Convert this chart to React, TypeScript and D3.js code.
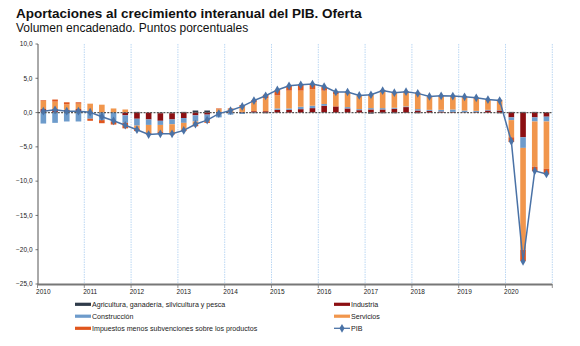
import React from "react";
import * as d3 from "d3";

const years = ["2010", "2011", "2012", "2013", "2014", "2015", "2016", "2017", "2018", "2019", "2020"];
const quarterNames = ["T1", "T2", "T3", "T4"];
const periods = years.flatMap((y) => quarterNames.map((q) => `${y}${q}`));

const agricultura = [
  0.1, 0.1, 0.1, 0.2, 0.0, 0.05, 0.05, 0.05, 0.1, 0.0, -0.1, -0.1, 0.1, 0.3, 0.3, 0.1,
  0.0, 0.0, 0.0, -0.1, 0.0, 0.0, 0.0, 0.05, 0.05, 0.0, 0.0, 0.0, -0.15, -0.1, -0.1, -0.05,
  -0.1, 0.0, 0.0, 0.0, 0.0, 0.0, 0.0, -0.1, 0.1, 0.1, 0.1, 0.05,
];
const industria = [
  0.4, 0.4, 0.3, 0.3, 0.1, 0.0, 0.0, -0.4, -0.9, -1.0, -1.1, -0.9, -0.8, -0.4, -0.3, 0.0,
  0.1, 0.1, 0.2, 0.2, 0.4, 0.4, 0.5, 0.6, 0.95, 0.9, 0.6, 0.35, 0.45, 0.45, 0.55, 0.8,
  0.3, 0.25, 0.15, 0.1, 0.05, 0.1, 0.3, 0.3, -0.7, -3.6, -0.7, -0.6,
];
const construccion = [
  -1.6, -1.5, -1.3, -1.3, -0.9, -1.1, -1.3, -1.1, -1.0, -0.8, -0.6, -0.7, -0.7, -0.9, -0.8, -0.7,
  -0.3, -0.2, -0.1, 0.0, 0.2, 0.2, 0.35, 0.35, 0.25, 0.0, 0.2, 0.15, 0.2, 0.2, 0.15, 0.1,
  0.2, 0.15, 0.25, 0.35, 0.25, 0.15, 0.1, 0.05, -0.4, -1.55, -0.6, -0.7,
];
const servicios = [
  1.2, 1.1, 0.8, 0.8, 1.2, 1.1, 0.55, 0.4, -0.5, -1.2, -1.0, -1.3, -1.0, -0.5, -0.2, 0.4,
  0.4, 0.8, 1.3, 1.9, 1.9, 2.6, 2.35, 2.4, 1.95, 1.8, 2.1, 1.95, 2.05, 2.5, 2.2, 2.2,
  2.3, 1.8, 1.95, 1.85, 1.9, 1.75, 1.5, 1.45, -2.5, -14.85, -6.6, -6.9,
];
const impuestos = [
  0.1, 0.3, 0.3, 0.2, -0.3, -0.45, -0.45, -0.8, -0.3, -0.2, -0.3, -0.2, -0.2, -0.2, -0.2, 0.1,
  0.1, 0.2, 0.3, 0.5, 0.8, 0.7, 0.9, 0.75, 0.55, 0.3, 0.1, 0.0, 0.0, 0.15, 0.1, 0.0,
  0.1, 0.1, 0.1, 0.1, 0.1, 0.1, 0.0, 0.05, -0.7, -1.65, -0.65, -0.8,
];
const pib = [
  0.2, 0.4, 0.2, 0.2, 0.05, -0.6, -1.2, -1.85, -2.5, -3.2, -3.1, -3.1, -2.6, -1.7, -1.1, -0.15,
  0.3, 0.9, 1.75, 2.45, 3.3, 3.9, 4.05, 4.15, 3.8, 3.0, 3.0, 2.5, 2.6, 3.2, 2.9, 3.05,
  2.8, 2.35, 2.45, 2.4, 2.3, 2.15, 1.9, 1.75, -4.2, -21.7, -8.5, -8.95,
];

const seriesKeys = ["agricultura", "industria", "construccion", "servicios", "impuestos"];
const seriesNames = [
  "Agricultura, ganadería, silvicultura y pesca",
  "Industria",
  "Construcción",
  "Servicios",
  "Impuestos menos subvenciones sobre los productos",
];
const seriesColors = ["#2f3b4a", "#8c0f12", "#6d9bcb", "#f1964c", "#e0561d"];
const pibName = "PIB";
const pibColor = "#4a72a6";
const yTicks = [10, 5, 0, -5, -10, -15, -20, -25];

const title = "Aportaciones al crecimiento interanual del PIB. Oferta";
const subtitle = "Volumen encadenado. Puntos porcentuales";

const W = 580;
const H = 346;
const FONT = "'Liberation Sans', Arial, sans-serif";

export default function App() {
  const values = [agricultura, industria, construccion, servicios, impuestos];
  const rows = periods.map((p, i) => {
    const r: any = { period: p };
    seriesKeys.forEach((k, j) => (r[k] = values[j][i]));
    return r;
  });
  const stacked = d3.stack<any>().keys(seriesKeys).offset(d3.stackOffsetDiverging)(rows);

  const x = d3.scaleBand<string>().domain(periods).range([37.5, 552.3]).paddingInner(0.52).paddingOuter(0.26);
  const y = d3.scaleLinear().domain([-25, 10]).range([284, 44]);
  const fmt = d3.formatLocale({ decimal: ",", thousands: ".", grouping: [3], currency: ["", "€"] }).format(".1f");
  const step = x.step();
  const x0 = x.range()[0];
  const yearStarts = years.map((_, i) => x0 + step * 4 * i);
  const lineGen = d3
    .line<number>()
    .x((_, i) => (x(periods[i]) as number) + x.bandwidth() / 2)
    .y((d) => y(d));
  const diamond = d3.symbol().type(d3.symbolDiamond).size(22)() as string;

  const legendItems = [
    { name: seriesNames[0], color: seriesColors[0], col: 0, row: 0 },
    { name: seriesNames[2], color: seriesColors[2], col: 0, row: 1 },
    { name: seriesNames[4], color: seriesColors[4], col: 0, row: 2 },
    { name: seriesNames[1], color: seriesColors[1], col: 1, row: 0 },
    { name: seriesNames[3], color: seriesColors[3], col: 1, row: 1 },
  ];
  const legendX = [75, 334];
  const legendY = [304.3, 316.2, 328.3];

  return (
    <svg width={W} height={H} style={{ position: "absolute", left: 0, top: 0, background: "#fff" }} fontFamily={FONT}>
      <text x={16} y={18} fontSize={13.5} fontWeight="bold" fill="#111">{title}</text>
      <text x={16} y={32} fontSize={12} fill="#111">{subtitle}</text>

      {/* vertical year gridlines */}
      {yearStarts.slice(1).concat([x.range()[1]]).map((gx, i) => (
        <line key={`g${i}`} x1={gx} x2={gx} y1={44} y2={284} stroke="#a9cdf0" strokeWidth={0.8} strokeDasharray="1.5,1" />
      ))}

      {/* bars */}
      {stacked.map((s, si) => (
        <g key={s.key} fill={seriesColors[si]}>
          {s.map((d, i) => {
            const y1 = y(Math.max(d[0], d[1]));
            const y2 = y(Math.min(d[0], d[1]));
            if (y2 - y1 <= 0) return null;
            return <rect key={i} x={x(periods[i])} width={x.bandwidth()} y={y1} height={y2 - y1} />;
          })}
        </g>
      ))}

      {/* zero line */}
      <line x1={38} x2={552.3} y1={y(0)} y2={y(0)} stroke="#555" strokeWidth={1.2} strokeDasharray="2,1.3" />

      {/* y axis */}
      <line x1={38} x2={38} y1={44} y2={284} stroke="#555" strokeWidth={1} />
      {yTicks.map((t) => (
        <g key={t}>
          <line x1={35.5} x2={38} y1={y(t)} y2={y(t)} stroke="#555" strokeWidth={0.8} />
          <text x={32.5} y={y(t)} dy="0.35em" textAnchor="end" fontSize={6.5} fill="#222">{fmt(t)}</text>
        </g>
      ))}

      {/* x axis */}
      <line x1={37.5} x2={552.3} y1={284.5} y2={284.5} stroke="#777" strokeWidth={1.8} />
      {yearStarts.concat([x.range()[1]]).map((gx, i) => (
        <line key={`t${i}`} x1={gx} x2={gx} y1={284} y2={288} stroke="#777" strokeWidth={0.8} />
      ))}
      {years.map((yr, i) => (
        <text key={yr} x={(x(periods[i * 4]) as number) + x.bandwidth() / 2} y={294} textAnchor="middle" fontSize={6.5} fill="#222">{yr}</text>
      ))}

      {/* PIB line */}
      <path d={lineGen(pib) as string} fill="none" stroke={pibColor} strokeWidth={1.5} />
      {pib.map((v, i) => (
        <path key={i} d={diamond} transform={`translate(${(x(periods[i]) as number) + x.bandwidth() / 2},${y(v)})`} fill={pibColor} />
      ))}

      {/* legend */}
      {legendItems.map((it) => (
        <g key={it.name}>
          <rect x={legendX[it.col]} y={legendY[it.row] - 1.6} width={16} height={3.2} fill={it.color} />
          <text x={legendX[it.col] + 17} y={legendY[it.row]} dy="0.35em" fontSize={7.1} fill="#222">{it.name}</text>
        </g>
      ))}
      <g>
        <line x1={legendX[1]} x2={legendX[1] + 16} y1={legendY[2]} y2={legendY[2]} stroke={pibColor} strokeWidth={1.3} />
        <path d={diamond} transform={`translate(${legendX[1] + 8},${legendY[2]})`} fill={pibColor} />
        <text x={legendX[1] + 17} y={legendY[2]} dy="0.35em" fontSize={7.1} fill="#222">{pibName}</text>
      </g>
    </svg>
  );
}
